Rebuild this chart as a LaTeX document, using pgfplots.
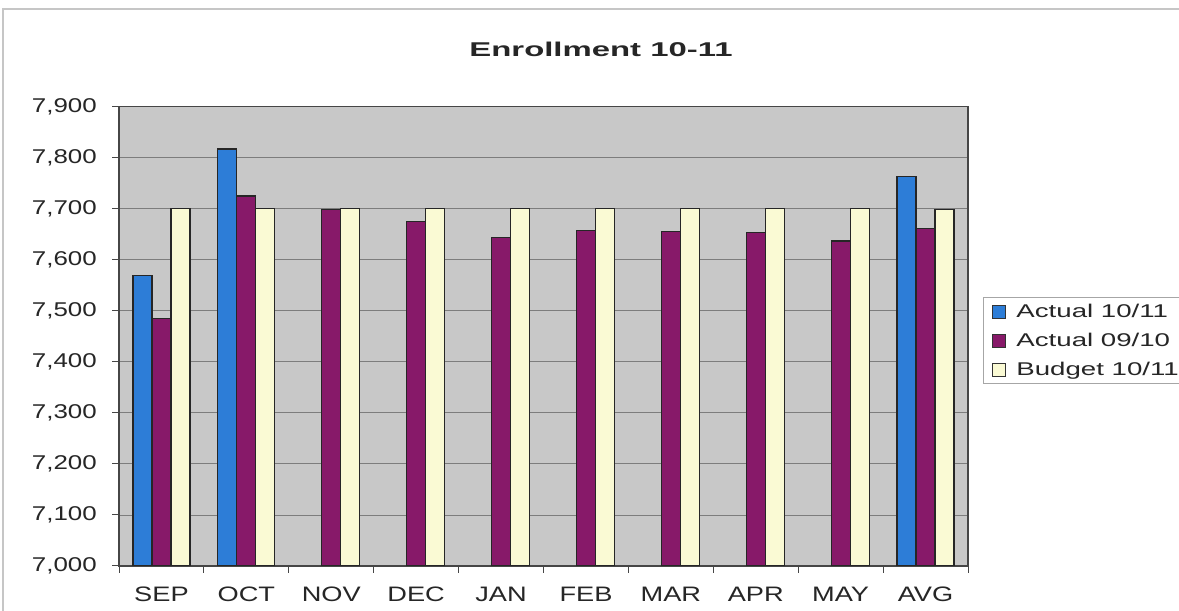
\documentclass[border=0pt]{standalone}
\usepackage{fontspec}
\setmainfont{Liberation Sans}
\newfontfamily\tickfont[FakeStretch=1.3]{Liberation Sans}
\newfontfamily\legfont[FakeStretch=1.5]{Liberation Sans}
\newfontfamily\titlefont[FakeStretch=1.65]{Liberation Sans Bold}
\usepackage{pgfplots}
\pgfplotsset{compat=1.18}
\definecolor{cblue}{RGB}{45,125,215}
\definecolor{cplum}{RGB}{135,25,105}
\definecolor{ccream}{RGB}{250,250,212}
\definecolor{cbg}{RGB}{200,200,200}
\definecolor{cgrid}{RGB}{125,125,125}
\definecolor{caxis}{RGB}{70,70,70}
\begin{document}
\begin{tikzpicture}
\useasboundingbox (0,0) rectangle (1179bp,611bp);
\fill[white] (0,0) rectangle (1179bp,611bp);
\draw[gray!45, line width=1.2bp] (3bp,0) -- (3bp,602bp) -- (1179bp,602bp);
\begin{axis}[
  at={(119bp,45bp)}, anchor=south west,
  width=849bp, height=459.3bp, scale only axis,
  axis background/.style={fill=cbg},
  xmin=-0.5, xmax=9.5, ymin=7000, ymax=7900,
  ytick={7000,7100,...,7900},
  xtick={0,...,9},
  xticklabels={SEP,OCT,NOV,DEC,JAN,FEB,MAR,APR,MAY,AVG},
  minor xtick={-0.5,0.5,...,9.5},
  minor tick length=7bp,
  major tick length=7bp,
  tick align=outside,
  tick style={caxis, line width=1bp},
  x tick style={draw=none},
  minor x tick style={draw=caxis, line width=1bp},
  xtick pos=bottom, ytick pos=left,
  ymajorgrids, major grid style={cgrid, line width=0.9bp},
  axis line style={caxis, line width=1.1bp},
  /pgf/number format/assume math mode=true,
  /pgf/number format/1000 sep={,},
  tick label style={font=\tickfont\fontsize{20}{24}\selectfont, text=black!85},
  y tick label style={inner sep=0pt, xshift=-15bp},
  x tick label style={inner sep=0pt, yshift=-14bp, font=\tickfont\fontsize{21}{24}\selectfont},
  ybar=0pt, bar width=19bp,
  legend style={at={(1.0177,0.5857)}, anchor=north west, draw=gray!70, line width=0.8bp,
    font=\legfont\fontsize{18.5}{21}\selectfont, text=black!85,
    inner xsep=4bp, inner ysep=5bp, row sep=10bp, cells={anchor=west}},
  legend image code/.code={\draw[#1, line width=0.9bp, draw=black!80] (5bp,-6.5bp) rectangle (18bp,6.5bp); \path[draw=none, fill=none] (0bp,0) rectangle (27bp,0.1bp);},
]
\addplot[fill=cblue, draw=black!85, line width=1.2bp] coordinates {(0,7570) (1,7817) (9,7763)};
\addplot[fill=cplum, draw=black!85, line width=1.2bp] coordinates {(0,7485) (1,7725) (2,7698) (3,7675) (4,7643) (5,7658) (6,7656) (7,7654) (8,7637) (9,7662)};
\addplot[fill=ccream, draw=black!85, line width=1.2bp] coordinates {(0,7700) (1,7700) (2,7700) (3,7700) (4,7700) (5,7700) (6,7700) (7,7700) (8,7700) (9,7698)};
\legend{Actual 10/11, Actual 09/10, Budget 10/11}
\end{axis}
\node[font=\titlefont\fontsize{20}{24}\selectfont, text=black!85] at (601bp,562bp) {Enrollment 10-11};
\end{tikzpicture}
\end{document}
